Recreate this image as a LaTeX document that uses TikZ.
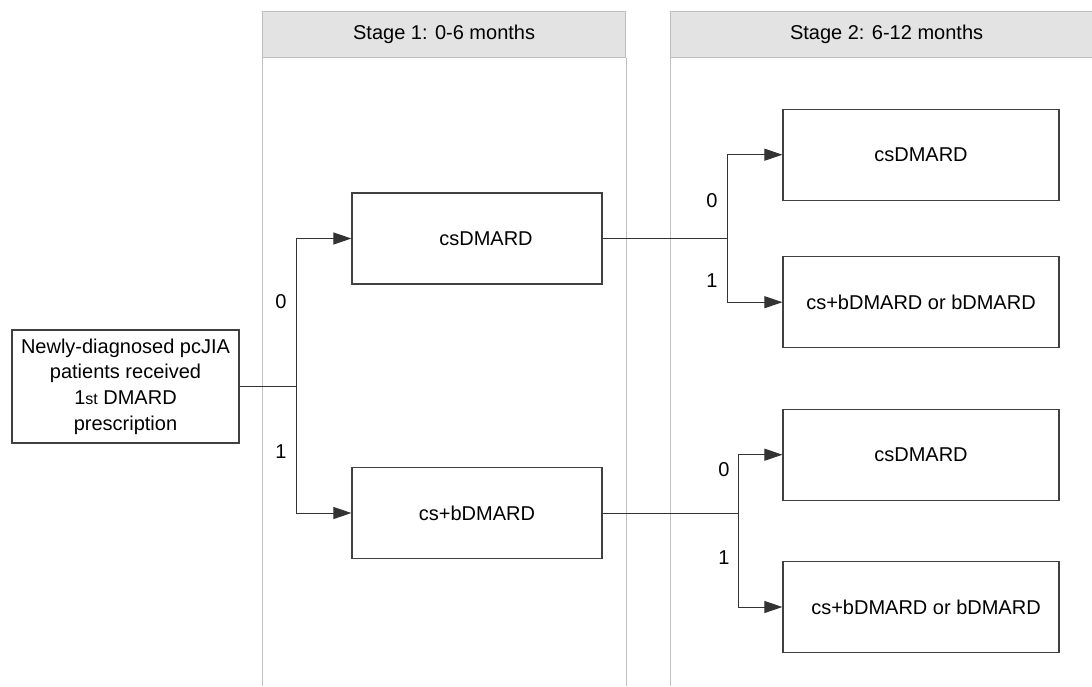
\documentclass[tikz,border=0pt]{standalone}
\usepackage{fontspec}
\setmainfont{Liberation Sans}
\usetikzlibrary{positioning,arrows.meta}

\begin{document}
\begin{tikzpicture}[x=0.5pt,y=-0.5pt]
	\tikzset{
		lane/.style={draw=black!25, line width=0.5pt},
		header/.style={draw=black!25, fill=black!11, line width=0.6pt, anchor=north west, minimum height=22.8pt, inner sep=0pt},
		stagebox/.style={draw=black!75, line width=0.6pt, minimum width=125pt, minimum height=45.5pt, inner sep=2pt},
		outbox/.style={draw=black!75, line width=0.6pt, minimum width=138pt, minimum height=45.5pt, inner sep=2pt},
		arr/.style={draw=black!80, line width=0.5pt, -{Triangle[length=9pt,width=6pt]}},
		link/.style={draw=black!80, line width=0.5pt},
		lbl/.style={inner sep=0pt}
	}
	\clip (0,0) rectangle (1092,686);
	
	% stages
	\node[header, minimum width=181.5pt] (hdr1) at (262,11) {Stage 1: 0-6 months};
	\node[header, minimum width=216pt] (hdr2) at (670,11) {Stage 2: 6-12 months};
	\draw[lane] (hdr1.south west) -- (hdr1.south west |- 0,686);
	\draw[lane] (hdr1.south east) -- (hdr1.south east |- 0,686);
	\draw[lane] (hdr2.south west) -- (hdr2.south west |- 0,686);
	\draw[lane] (hdr2.south east) -- (hdr2.south east |- 0,686);
	
	% boxes
	\node[draw=black!75, line width=0.6pt, minimum width=113.5pt, minimum height=56.5pt, inner sep=1pt, align=center, font=\fontsize{10}{12.8}\selectfont] (start) at (125.5,386.5) {Newly-diagnosed pcJIA\\patients received\\1{\footnotesize st} DMARD\\prescription};
	\node[stagebox] (cs1) at (477,238.5) {\hspace{9pt}csDMARD};
	\node[stagebox] (cb1) at (477,513) {cs+bDMARD};
	\node[outbox] (cs2a) at (921,154.7) {csDMARD};
	\node[outbox] (cb2a) at (921,302.2) {cs+bDMARD or bDMARD};
	\node[outbox] (cs2b) at (921,454.7) {csDMARD};
	\node[outbox] (cb2b) at (921,607) {\hspace{5pt}cs+bDMARD or bDMARD};
	
	\coordinate (j0) at (296,386.5);
	\coordinate (j1) at (727,238.5);
	\coordinate (j2) at (738,513);
	
	% stage 1 split
	\draw[link] (start.east) -- (j0);
	\draw[arr] (j0) |- (cs1.west);
	\draw[arr] (j0) |- (cb1.west);
	\node[lbl] (l10) at (281,302) {0};
	\node[lbl] (l11) at (281,452) {1};
	
	% stage 2 split
	\draw[link] (cs1.east) -- (j1);
	\draw[arr] (j1) |- (cs2a.west);
	\draw[arr] (j1) |- (cb2a.west);
	\node[lbl] (l20) at (712,201) {0};
	\node[lbl] (l21) at (712,281) {1};
	
	\draw[link] (cb1.east) -- (j2);
	\draw[arr] (j2) |- (cs2b.west);
	\draw[arr] (j2) |- (cb2b.west);
	\node[lbl] (l30) at (724,470) {0};
	\node[lbl] (l31) at (724,558) {1};
\end{tikzpicture}
\end{document}
